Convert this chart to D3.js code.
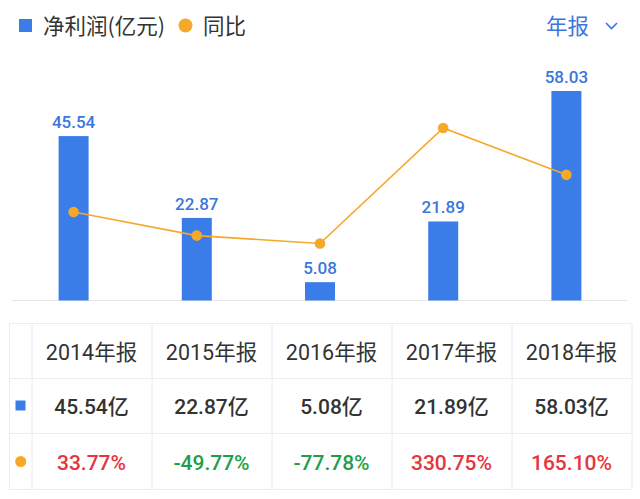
<!DOCTYPE html>
<html>
<head>
<meta charset="utf-8">
<script src="https://cdn.jsdelivr.net/npm/d3@7/dist/d3.min.js"></script>
<style>
  html, body { margin: 0; padding: 0; background: #fff; }
  svg { display: block; }
  text { font-family: Roboto, "Noto Sans CJK SC", "Noto Sans", sans-serif; }
</style>
</head>
<body>
<svg id="chart" width="640" height="499"></svg>
<script>
const categories = ["2014年报", "2015年报", "2016年报", "2017年报", "2018年报"];
const netProfit = [45.54, 22.87, 5.08, 21.89, 58.03];
const yoy = [33.77, -49.77, -77.78, 330.75, 165.10];
const legendLabels = ["净利润(亿元)", "同比"];
const periodLabel = "年报";

const BLUE = "#3b7de8";
const LABEL_BLUE = "#3a76dc";
const ORANGE = "#f6a829";
const RED = "#e8343e";
const GREEN = "#1e9e46";
const DARK = "#333333";
const GRID = "#ececec";

const svg = d3.select("#chart");

// Legend
const lg = svg.append("g");
lg.append("rect").attr("x", 19).attr("y", 19).attr("width", 13).attr("height", 13).attr("fill", BLUE);
lg.append("text").attr("x", 43).attr("y", 33.5).attr("font-size", 21.5).attr("fill", DARK)
  .style("font-family", '"Noto Sans CJK SC", sans-serif').text(legendLabels[0]);
lg.append("circle").attr("cx", 185.5).attr("cy", 25.5).attr("r", 7).attr("fill", ORANGE);
lg.append("text").attr("x", 203).attr("y", 33.5).attr("font-size", 21.5).attr("fill", DARK)
  .style("font-family", '"Noto Sans CJK SC", sans-serif').text(legendLabels[1]);
lg.append("text").attr("x", 546).attr("y", 33.5).attr("font-size", 21.5).attr("fill", LABEL_BLUE)
  .style("font-family", '"Noto Sans CJK SC", sans-serif').text(periodLabel);
lg.append("path").attr("d", "M606,23 L611.5,28.5 L617,23").attr("fill", "none")
  .attr("stroke", LABEL_BLUE).attr("stroke-width", 1.6);

// Scales
const x = d3.scaleBand().domain(categories).range([12, 628]);
const baseline = 300.5;
const yBar = d3.scaleLinear().domain([0, d3.max(netProfit)]).range([baseline, 91]);
const yLine = d3.scaleLinear().domain(d3.extent(yoy)).range([243.5, 128]);
const barW = 30;

// Baseline
svg.append("line").attr("x1", 12).attr("x2", 627).attr("y1", baseline).attr("y2", baseline)
  .attr("stroke", "#e6e6e6").attr("stroke-width", 1);

// Bars
svg.append("g").selectAll("rect").data(netProfit).join("rect")
  .attr("x", (d, i) => x(categories[i]) + x.bandwidth() / 2 - barW / 2)
  .attr("y", d => yBar(d))
  .attr("width", barW)
  .attr("height", d => baseline - yBar(d))
  .attr("fill", BLUE);

// Bar labels
svg.append("g").selectAll("text").data(netProfit).join("text")
  .attr("x", (d, i) => x(categories[i]) + x.bandwidth() / 2)
  .attr("y", d => yBar(d) - 8)
  .attr("text-anchor", "middle")
  .attr("font-size", 17)
  .attr("font-weight", 500)
  .attr("fill", LABEL_BLUE)
  .text(d => d.toFixed(2));

// Line
const line = d3.line()
  .x((d, i) => x(categories[i]) + x.bandwidth() / 2)
  .y(d => yLine(d));
svg.append("path").datum(yoy).attr("d", line).attr("fill", "none")
  .attr("stroke", ORANGE).attr("stroke-width", 1.6);
svg.append("g").selectAll("circle").data(yoy).join("circle")
  .attr("cx", (d, i) => x(categories[i]) + x.bandwidth() / 2)
  .attr("cy", d => yLine(d))
  .attr("r", 5.3)
  .attr("fill", ORANGE);

// Table
const tLeft = 9, tFirst = 31.5, colW = 120;
const rowsY = [323, 378, 433, 489];
const tRight = tFirst + colW * categories.length;
const tg = svg.append("g");
rowsY.forEach(yy => {
  tg.append("line").attr("x1", tLeft).attr("x2", tRight).attr("y1", yy + 0.5).attr("y2", yy + 0.5)
    .attr("stroke", GRID).attr("stroke-width", 1);
});
const colXs = [tLeft, tFirst].concat(categories.map((c, i) => tFirst + colW * (i + 1)));
colXs.forEach(xx => {
  tg.append("line").attr("x1", xx + 0.5).attr("x2", xx + 0.5).attr("y1", rowsY[0]).attr("y2", rowsY[3])
    .attr("stroke", GRID).attr("stroke-width", 1);
});
const colCenter = i => tFirst + colW * i + colW / 2;

tg.selectAll("text.hdr").data(categories).join("text").attr("class", "hdr")
  .attr("x", (d, i) => colCenter(i)).attr("y", 359.5)
  .attr("text-anchor", "middle").attr("font-size", 21.5).attr("fill", DARK).text(d => d);

tg.selectAll("text.val").data(netProfit).join("text").attr("class", "val")
  .attr("x", (d, i) => colCenter(i)).attr("y", 414)
  .attr("text-anchor", "middle").attr("font-size", 21).attr("font-weight", 500).attr("fill", DARK)
  .text(d => d.toFixed(2) + "亿");

tg.selectAll("text.pct").data(yoy).join("text").attr("class", "pct")
  .attr("x", (d, i) => colCenter(i)).attr("y", 470)
  .attr("text-anchor", "middle").attr("font-size", 21).attr("font-weight", 500)
  .attr("fill", d => d >= 0 ? RED : GREEN)
  .text(d => d.toFixed(2) + "%");

tg.append("rect").attr("x", 15.5).attr("y", 400.5).attr("width", 10).attr("height", 10).attr("fill", BLUE);
tg.append("circle").attr("cx", 20.7).attr("cy", 461.5).attr("r", 5.5).attr("fill", ORANGE);
</script>
</body>
</html>
